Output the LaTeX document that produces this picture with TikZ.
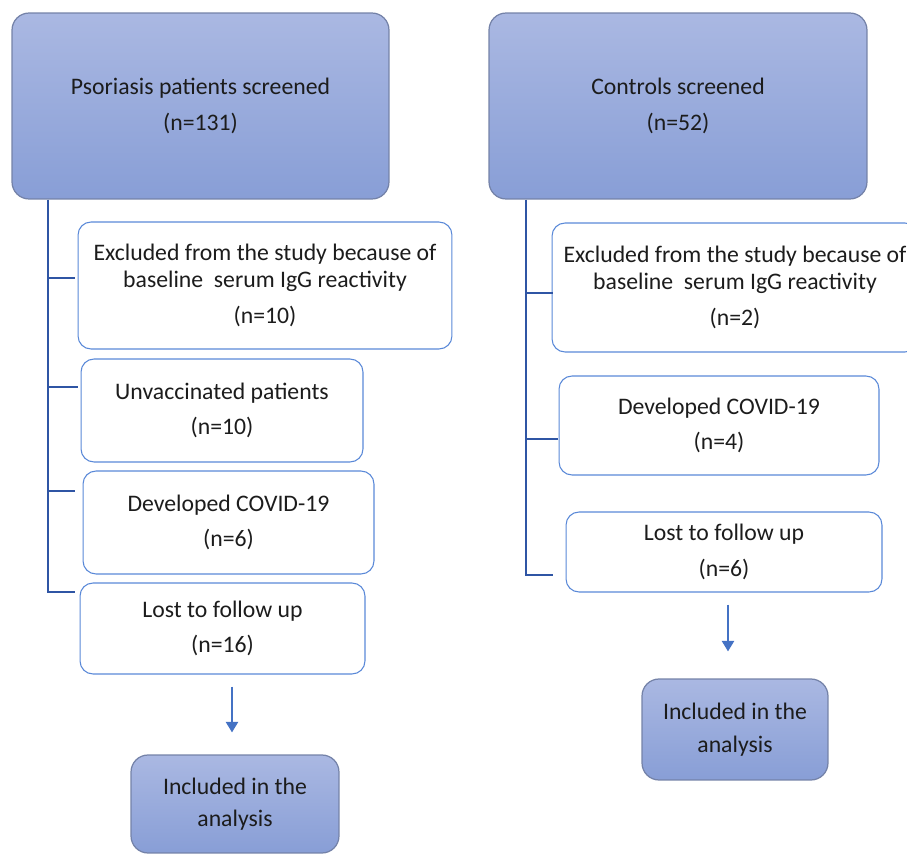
\documentclass[tikz,border=0pt]{standalone}
\usepackage{fontspec}
\setmainfont{Carlito}
\usepackage{tikz}
\usetikzlibrary{arrows.meta,positioning}

\definecolor{hdtop}{HTML}{AAB8E2}
\definecolor{hdbot}{HTML}{889ED6}
\definecolor{hdline}{HTML}{7482A8}
\definecolor{exline}{HTML}{5A89D8}
\definecolor{trunkcol}{HTML}{2F55A4}
\definecolor{arrcol}{HTML}{4472C4}
\definecolor{txt}{HTML}{1C1C1C}

\tikzset{
  headbox/.style={draw=hdline, line width=0.7pt, rounded corners=0.34cm,
    top color=hdtop, bottom color=hdbot, align=center, text=txt, inner sep=0pt},
  exbox/.style={draw=exline, line width=0.6pt, rounded corners=0.26cm,
    fill=white, align=center, text=txt, inner sep=0pt},
  trunk/.style={draw=trunkcol, line width=1.1pt},
  arr/.style={draw=arrcol, line width=0.9pt, -{Triangle[width=7pt,length=6pt]}},
}

\begin{document}
\begin{tikzpicture}[x=0.02cm, y=-0.02cm, font=\fontsize{13.5}{15.3}\selectfont]
  \useasboundingbox (0,0) rectangle (907,855);
  \clip (0,0) rectangle (907,855);
  % psoriasis column
  \node[headbox, minimum width=7.54cm, minimum height=3.72cm] (lps) at (200.5,106)
    {Psoriasis patients screened\\[0.36em](n=131)};
  \node[exbox, minimum width=7.48cm, minimum height=2.54cm] (lex) at (265,285.5)
    {Excluded from the study because of\\baseline\ \ serum IgG reactivity\\[0.36em](n=10)};
  \node[exbox, minimum width=5.64cm, minimum height=2.06cm] (lun) at (222,410.5)
    {Unvaccinated patients\\[0.36em](n=10)};
  \node[exbox, minimum width=5.82cm, minimum height=2.06cm] (lco) at (228.5,522.5)
    {Developed COVID-19\\[0.36em](n=6)};
  \node[exbox, minimum width=5.7cm, minimum height=1.82cm] (llost) at (222.5,628.5)
    {Lost to follow up\\[0.36em](n=16)};
  \node[headbox, minimum width=4.16cm, minimum height=1.96cm] (lin) at (235,804)
    {Included in the\\[0.24em]analysis};
  % controls column
  \node[headbox, minimum width=7.56cm, minimum height=3.72cm] (rcs) at (678,106)
    {Controls screened\\[0.36em](n=52)};
  \node[exbox, minimum width=7.32cm, minimum height=2.58cm] (rex) at (735,287.5)
    {Excluded from the study because of\\baseline\ \ serum IgG reactivity\\[0.36em](n=2)};
  \node[exbox, minimum width=6.4cm, minimum height=1.98cm] (rco) at (719,425.5)
    {Developed COVID-19\\[0.36em](n=4)};
  \node[exbox, minimum width=6.32cm, minimum height=1.6cm] (rlost) at (724,552)
    {Lost to follow up\\[0.36em](n=6)};
  \node[headbox, minimum width=3.72cm, minimum height=2.02cm] (rin) at (735,729.5)
    {Included in the\\[0.24em]analysis};
  % bracket lines
  \coordinate (lbase) at (48,592);
  \coordinate (ltk1) at (75,278);
  \coordinate (ltk2) at (78,387);
  \coordinate (ltk3) at (75,491);
  \coordinate (ltk4) at (75,592);
  \draw[trunk] (lps.south -| lbase) -- (lbase) -- (ltk4);
  \foreach \t in {1,2,3}
    \draw[trunk] (ltk\t -| lbase) -- (ltk\t);
  \coordinate (rbase) at (526,575);
  \coordinate (rtk1) at (553,293);
  \coordinate (rtk2) at (558,439);
  \coordinate (rtk3) at (553,575);
  \draw[trunk] (rcs.south -| rbase) -- (rbase) -- (rtk3);
  \foreach \t in {1,2}
    \draw[trunk] (rtk\t -| rbase) -- (rtk\t);
  % arrows to analysis
  \draw[arr, shorten <=0.24cm, shorten >=0.44cm] ([xshift=-0.06cm]lin.north |- llost.south) -- ([xshift=-0.06cm]lin.north);
  \draw[arr, shorten <=0.24cm, shorten >=0.54cm] ([xshift=-0.14cm]rin.north |- rlost.south) -- ([xshift=-0.14cm]rin.north);
\end{tikzpicture}
\end{document}
